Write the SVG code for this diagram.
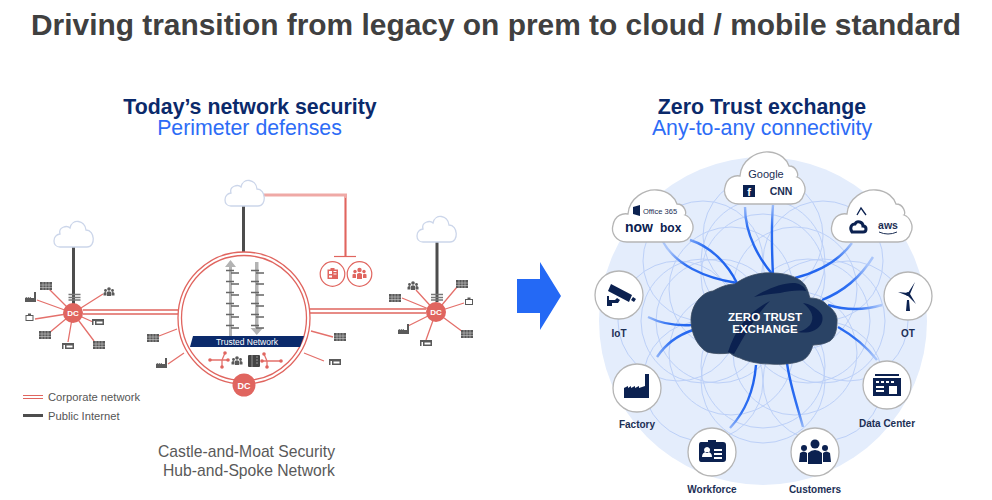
<svg xmlns="http://www.w3.org/2000/svg" width="992" height="500" viewBox="0 0 992 500">
<style>
text{font-family:"Liberation Sans",Arial,sans-serif}
.title{font-size:29.900px;font-weight:700;fill:#404040}
.h1{font-size:21.300px;font-weight:700;fill:#0b2a6b;text-anchor:middle}
.h2{font-size:21.300px;fill:#2d6cf6;text-anchor:middle}
.cap{font-size:15.700px;fill:#595959}
.leg{font-size:11.200px;fill:#555}
.lab{font-size:10px;font-weight:700;fill:#1c2f55;text-anchor:middle}
.red{stroke:#e0655f;fill:none}
.spoke{stroke:#e4706b;stroke-width:1.300;fill:none}
.trunk{stroke:#4d4d4d;stroke-width:3;fill:none}
.dc{fill:#e0655f}
.dct{font-size:8px;font-weight:700;fill:#fff;text-anchor:middle}
.sky{fill:#fff;stroke:#ccd6ea;stroke-width:1.300}
.bigc{fill:#fff;stroke:#b5b5b5;stroke-width:1.300}
.nodec{fill:#fff;stroke:#b5b5b5;stroke-width:1.300}
.ic{fill:#0b2150}
.ring{fill:none;stroke:#bcd0f8;stroke-width:1}
.link{fill:none;stroke:url(#fade);stroke-width:2.400}
.g{fill:#5a5a5a}
.r{fill:#e0655f}
.arr{fill:#b3b3b3}
.srv{stroke:#666;stroke-width:1.300;fill:none}
</style>
<defs>
<radialGradient id="fade" gradientUnits="userSpaceOnUse" cx="763" cy="320" r="118">
<stop offset="0.5" stop-color="#1f62ee"/><stop offset="0.8" stop-color="#2f70f2"/><stop offset="1" stop-color="#a9c5fa"/>
</radialGradient>
<path id="skyp" d="M-14,12C-22,12 -22,0 -14,-1C-16,-8 -7,-10 -4,-7C-2,-17 11,-15 12,-5C21,-5 22,12 13,12Z"/>
<path id="bigp" d="M-26,26C-38,26 -42,16 -40,9C-38,-1 -30,-3 -25,-2C-24,-18 -8,-27 4,-26C16,-25 22,-18 24,-12C32,-12 34,-2 32,-1C38,1 42,10 39,16C37,23 32,26 26,26Z"/>
<g id="bld"><rect x="-6" y="-4" width="12" height="8" class="g"/><path d="M-3,-4V4M0,-4V4M3,-4V4M-6,-1H6M-6,1.500H6" stroke="#ddd" stroke-width=".5"/></g>
<path id="fac" class="g" d="M-6,4V0L-4,-1V0L-2,-1V0L0,-1V0L3,0V-6H5V4Z"/>
<path id="sto" class="g" fill-rule="evenodd" d="M-6,-3H6V3H-3V-1H-4.500V3H-6ZM-1.500,-.5V1.500H4.500V-.5Z"/>
<g id="ppl"><circle cy="-3" r="1.800" class="g"/><circle cx="-3.500" cy="-1.500" r="1.400" class="g"/><circle cx="3.500" cy="-1.500" r="1.400" class="g"/><path class="g" d="M-2,4V0Q0,-1.500 2,0V4ZM-5.500,3.500V1Q-4,-.5 -2.500,.5V3.500ZM5.500,3.500V1Q4,-.5 2.500,.5V3.500Z"/></g>
<path id="bdg" class="g" fill-rule="evenodd" d="M-4,-3H-1.500V-4.500H1.500V-3H4V3H-4ZM-3,-2V2H3V-2Z"/>
<g id="srvr"><path d="M-6,-2.500H6M-6,.5H6M-6,3H6" stroke="#777" stroke-width="1.700"/></g>
<g id="mini"><path class="srv" d="M-5,-1.500H3M0,1H8"/></g>
</defs>

<text class="title" x="31" y="35">Driving transition from legacy on prem to cloud / mobile standard</text>
<text class="h1" x="250" y="114">Today’s network security</text>
<text class="h2" x="249.500" y="135">Perimeter defenses</text>
<text class="h1" x="762" y="114">Zero Trust exchange</text>
<text class="h2" x="762" y="135">Any-to-any connectivity</text>

<g id="backdrop">
<circle cx="763" cy="321" r="164" fill="#e4edfc"/>
<g id="rings">
<circle class="ring" cx="763" cy="276" r="62"/><circle class="ring" cx="795" cy="289" r="62"/><circle class="ring" cx="808" cy="321" r="62"/><circle class="ring" cx="795" cy="353" r="62"/><circle class="ring" cx="763" cy="366" r="62"/><circle class="ring" cx="731" cy="353" r="62"/><circle class="ring" cx="718" cy="321" r="62"/><circle class="ring" cx="731" cy="289" r="62"/>
<circle class="ring" cx="763" cy="261" r="62"/><circle class="ring" cx="823" cy="321" r="62"/><circle class="ring" cx="763" cy="381" r="62"/><circle class="ring" cx="703" cy="321" r="62"/>
<circle class="ring" cx="678" cy="321" r="60"/><circle class="ring" cx="848" cy="321" r="60"/><circle class="ring" cx="703" cy="261" r="60"/><circle class="ring" cx="823" cy="261" r="60"/><circle class="ring" cx="703" cy="381" r="60"/><circle class="ring" cx="823" cy="381" r="60"/><circle class="ring" cx="763" cy="236" r="60"/>
</g>
</g>

<path id="big-arrow" d="M517,279H540V262L561,296L540,330V313H517Z" fill="#2469f5"/>

<g id="connectors">
<g id="left-connectors">
<path class="trunk" d="M73.500,246V304"/><path class="trunk" d="M243.500,206V252"/><path class="trunk" d="M437,242V302"/>
<path class="red" stroke-width="1.500" d="M83,310H178M83,314H178"/>
<path class="red" stroke-width="1.500" d="M310,309H426M310,313H426"/>
<path d="M263,195H345.500V256" fill="none" stroke="#efa9a6" stroke-width="3"/>
<path d="M345.500,198V256" fill="none" stroke="#e0655f" stroke-width="1"/>
<path class="red" stroke-width="1.200" d="M334,256.500H356"/>
<path class="spoke" d="M73,313L46,286M73,313L37,300M73,313L35,319M73,313L49,333M73,313L68,342M73,313L94,341M73,313L93,322M73,313L103,294"/>
<path class="spoke" d="M177,329L159,336M184,353L168,364M311,331L333,337M304,353L324,361"/>
<path class="spoke" d="M436,312L402,298M436,312L416,290M436,312L457,287M436,312L464,303M436,312L463,332M436,312L426,340M436,312L408,326"/>
</g>
<g id="right-connectors">
<path class="link" d="M662,240C675,265 705,278 737,283"/>
<path class="link" d="M690,240C712,247 728,265 737,283"/>
<path class="link" d="M745,207C745,235 760,260 773,275"/>
<path class="link" d="M773,205C771,230 772,255 773,275"/>
<path class="link" d="M852,243C838,262 818,272 795,278"/>
<path class="link" d="M873,257C860,278 842,292 822,300"/>
<path class="link" d="M882,305C865,310 845,310 828,305"/>
<path class="link" d="M648,317C662,324 676,326 692,325"/>
<path class="link" d="M657,357C665,345 678,335 693,330"/>
<path class="link" d="M877,360C866,346 852,335 838,327"/>
<path class="link" d="M730,428C745,412 754,390 756,365"/>
<path class="link" d="M803,427C797,405 790,385 787,363"/>
</g>
</g>

<g id="cloud-left"><use href="#skyp" class="sky" transform="translate(74,235)"/></g>
<g id="cloud-center"><use href="#skyp" class="sky" transform="translate(245,194)"/></g>
<g id="cloud-right"><use href="#skyp" class="sky" transform="translate(437,230)"/></g>

<g id="dc-left"><circle class="dc" cx="73" cy="313" r="10"/><text class="dct" x="73" y="316">DC</text></g>
<g id="dc-right"><circle class="dc" cx="436" cy="312" r="10"/><text class="dct" x="436" y="315">DC</text></g>

<g id="left-icons">
<use href="#srvr" x="74.500" y="297"/>
<use href="#bld" x="46" y="286"/><use href="#fac" x="31" y="298"/><use href="#bdg" x="29.500" y="318"/><use href="#bld" x="45" y="335"/><use href="#sto" x="68" y="346"/><use href="#bld" x="99" y="345"/><use href="#sto" x="98" y="322"/><use href="#ppl" x="109" y="292"/>
<use href="#bld" x="153" y="338"/><use href="#fac" x="162" y="364"/>
<use href="#bld" x="340" y="337"/><use href="#sto" x="335" y="362"/>
</g>
<g id="right-icons">
<use href="#srvr" x="437" y="297"/>
<use href="#bld" x="395" y="298"/><use href="#ppl" x="413" y="286"/><use href="#bld" x="462" y="284"/><use href="#bdg" x="469" y="302"/><use href="#bld" x="467" y="334"/><use href="#sto" x="426" y="343"/><use href="#fac" x="404" y="330"/>
</g>

<g id="castle">
<circle class="red" cx="244" cy="318" r="66" stroke-width="1.300"/>
<circle class="red" cx="244" cy="318" r="62.500" stroke-width="1.300"/>
<path class="arr" d="M229,336V267H225L230.500,260L236,267H232V336Z"/>
<path class="arr" d="M255,262H258.500V328H263L256.800,335L250.500,328H255Z"/>
<use href="#mini" x="231" y="272"/><use href="#mini" x="231" y="283"/><use href="#mini" x="231" y="294"/><use href="#mini" x="231" y="305"/><use href="#mini" x="231" y="316"/><use href="#mini" x="231" y="327"/>
<use href="#mini" x="256" y="272"/><use href="#mini" x="256" y="283"/><use href="#mini" x="256" y="294"/><use href="#mini" x="256" y="305"/><use href="#mini" x="256" y="316"/><use href="#mini" x="256" y="327"/>
<path d="M193,336H304L300,347H190Z" fill="#0b2a6b"/>
<text x="247" y="345" fill="#fff" text-anchor="middle" style="font-size:8.500px">Trusted Network</text>
<path class="spoke" d="M210,360H228M222,360V367M222,360L225,353M281,361H262M267,361V367M267,361L264,354"/>
<circle class="r" cx="210" cy="360" r="1.800"/><circle class="r" cx="222" cy="367" r="1.800"/><circle class="r" cx="225" cy="353" r="1.800"/><circle class="r" cx="228" cy="360" r="1.800"/>
<circle class="r" cx="281" cy="361" r="1.800"/><circle class="r" cx="267" cy="367" r="1.800"/><circle class="r" cx="264" cy="354" r="1.800"/><circle class="r" cx="262" cy="361" r="1.800"/>
<use href="#ppl" x="237" y="361"/>
<rect x="248" y="355" width="12" height="12" rx="1" fill="#444"/>
<path d="M252,355V367M256,357H258M256,360H258M256,363H258" stroke="#bbb" stroke-width=".7"/>
</g>
<g id="dc-center"><circle class="dc" cx="244" cy="385" r="11.500"/><text class="dct" x="244" y="389" style="font-size:9px">DC</text></g>

<g id="blocked">
<circle class="red" stroke-width="1.200" cx="332.500" cy="274" r="12.300"/>
<circle class="red" stroke-width="1.200" cx="359.500" cy="274" r="12.300"/>
<path class="r" fill-rule="evenodd" d="M327.500,269.500H330.500V268H334.500V269.500H338V279H327.500ZM329,271V274H332V271ZM333.500,271V272H336.500V271ZM333.500,273.500V274.500H336.500V273.500ZM329,275.500V277.500H332V275.500Z"/>
<g fill="#e0655f"><circle cx="359.500" cy="270" r="2.200"/><circle cx="355" cy="271.500" r="1.700"/><circle cx="364" cy="271.500" r="1.700"/><path d="M357,279V274Q359.500,272 362,274V279ZM352.500,278V274.500Q354.500,273 356,274.500V278ZM366.500,278V274.500Q364.500,273 363,274.500V278Z"/></g>
</g>

<g id="legend">
<path class="red" stroke-width="1" d="M23,395.500H43M23,398.500H43"/>
<path class="trunk" d="M23,415.500H43"/>
<text class="leg" x="48" y="401">Corporate network</text>
<text class="leg" x="48" y="420">Public Internet</text>
</g>
<text class="cap" x="158" y="457">Castle-and-Moat Security</text>
<text class="cap" x="163" y="476">Hub-and-Spoke Network</text>

<g id="zero-trust">
<path d="M691,320C691,305 702,292 713,291C720,287 728,284 735,284C745,276 760,272 772,273C788,273 800,278 805,285C808,290 809,295 810,298C818,298 824,301 827,305C833,309 838,315 837,322C837,332 834,338 830,341C824,344 818,345 813,345C811,352 808,357 803,360C795,364 780,365 770,364C760,364 748,362 740,358C736,357 732,355 730,353C722,354 714,354 707,352C698,347 691,334 691,320Z" fill="#2a4365" stroke="#3a4a60" stroke-width=".8"/>
<path d="M754,297C768,288 785,282 795,283C801,284 805,287 806,291C798,290 788,291 780,293C771,294 762,295 754,297Z" fill="#0b2150"/>
<path d="M728,352C735,330 748,312 770,301C755,316 745,335 734,354Z" fill="#0b2150"/>
<path d="M798,332C815,335 825,325 822,315C818,308 810,304 803,303C812,310 815,318 810,325C806,329 802,331 798,332Z" fill="#0b2150"/>
<text x="765" y="320.500" font-size="11.600" font-weight="700" fill="#fff" text-anchor="middle">ZERO TRUST</text>
<text x="765" y="333" font-size="11.600" font-weight="700" fill="#fff" text-anchor="middle">EXCHANGE</text>
</g>

<g id="cloud-google">
<use href="#bigp" class="bigc" transform="translate(765,178)"/>
<text x="766" y="178" font-size="11" fill="#1c2f55" text-anchor="middle">Google</text>
<rect x="743" y="185" width="12" height="12" fill="#0b2150"/><text x="749" y="196" font-size="11" font-weight="700" fill="#fff" text-anchor="middle">f</text>
<text x="781" y="195" font-size="10.500" font-weight="700" fill="#1c2f55" text-anchor="middle">CNN</text>
</g>
<g id="cloud-office">
<use href="#bigp" class="bigc" transform="translate(653,216)"/>
<path class="ic" d="M633,207L640,205V216L633,214Z"/>
<text x="643" y="214" font-size="7.500" fill="#1c2f55">Office 365</text>
<text x="625" y="232" font-size="14" font-weight="700" fill="#0b2150">now</text>
<text x="660" y="232" font-size="12" font-weight="700" fill="#0b2150">box</text>
</g>
<g id="cloud-cloud">
<use href="#bigp" class="bigc" transform="translate(872,216)"/>
<path d="M857,215L861,208L866,215" fill="none" stroke="#0b2150" stroke-width="1.300"/>
<path fill="none" stroke="#0b2150" stroke-width="3" d="M855,232H852C849,227 852,224 855,224C857,220 863,222 863,226C867,226 867,232 863,232Z"/>
<text x="888" y="229" font-size="10.500" font-weight="700" fill="#1c2f55" text-anchor="middle">aws</text>
<path d="M879,232Q888,236 897,232" fill="none" stroke="#1c2f55" stroke-width="1"/>
</g>

<g id="node-iot">
<circle class="nodec" cx="619" cy="295" r="24"/>
<path class="ic" d="M611,284L632,295L629,302L608,291ZM633,297L636,299L634,302L631,300ZM617,298L620,300L618,303H612V306H607V296H609V300H615Z"/>
<text class="lab" x="619" y="337">IoT</text>
</g>
<g id="node-ot">
<circle class="nodec" cx="908" cy="296" r="24"/>
<path class="ic" d="M907,300H909L910,311H906ZM908,293L915,282L910,294L916,304L908,296L898,292Z"/>
<circle cx="908" cy="294" r="2" class="ic"/>
<text class="lab" x="908" y="337">OT</text>
</g>
<g id="node-factory">
<circle class="nodec" cx="637" cy="388" r="24"/>
<path class="ic" d="M624,398V388L628,386V388L631,386V388L635,386V388L639,386V388L645,386V374H649V398Z"/>
<text class="lab" x="637" y="428">Factory</text>
</g>
<g id="node-dc">
<circle class="nodec" cx="887" cy="385" r="24"/>
<path class="ic" fill-rule="evenodd" d="M875,374H899V376H875ZM873,378H901V396H873ZM876,381V383H879V381ZM881,381V383H884V381ZM886,381V383H889V381ZM891,381V383H894V381ZM876,386V388H884V386ZM876,390V392H884V390ZM889,386V394H897V386Z"/>
<text class="lab" x="887" y="427">Data Center</text>
</g>
<g id="node-workforce">
<circle class="nodec" cx="712" cy="452" r="24"/>
<path class="ic" fill-rule="evenodd" d="M701,442H708V440H716V442H723Q726,442 726,445V459Q726,462 723,462H701Q699,462 699,459V445Q699,442 701,442ZM707,447A3,3 0 1 0 707.100,447ZM702,457H712Q712,452 707,452Q702,452 702,457ZM714,449V451H722V449ZM714,453V455H722V453ZM714,457V459H722V457Z"/>
<text class="lab" x="712" y="493">Workforce</text>
</g>
<g id="node-customers">
<circle class="nodec" cx="815" cy="452" r="24"/>
<g class="ic"><circle cx="815" cy="444" r="4.500"/><circle cx="804" cy="448" r="3"/><circle cx="825" cy="448" r="3"/>
<path d="M808,464V453Q815,447 822,453V464ZM799,462L800,453Q804,450 807,453V462ZM831,462L830,453Q826,450 823,453V462Z"/></g>
<text class="lab" x="815" y="493">Customers</text>
</g>
</svg>
